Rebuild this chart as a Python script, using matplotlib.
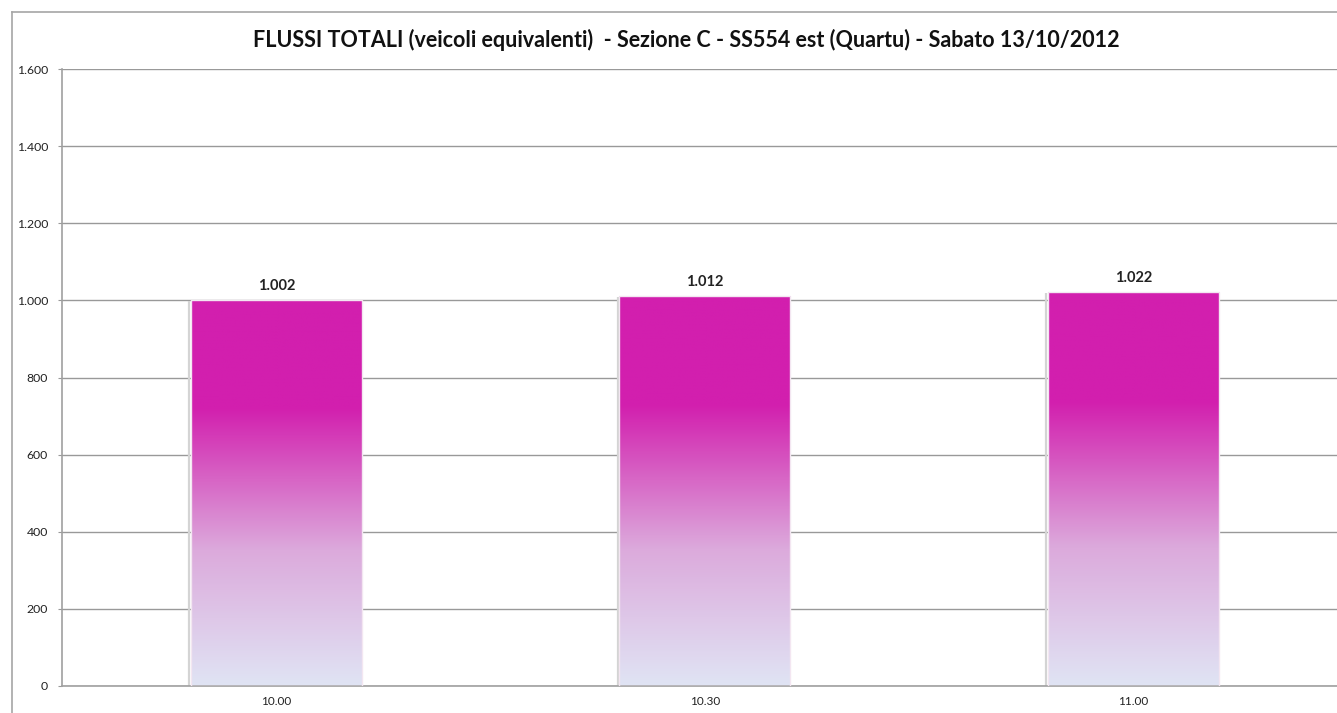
import numpy as np
import matplotlib
matplotlib.use("Agg")
import matplotlib.pyplot as plt
from matplotlib.colors import LinearSegmentedColormap
from matplotlib.lines import Line2D

# data
times = ["10.00", "10.30", "11.00"]
flows = [1002, 1012, 1022]
flow_labels = ["1.002", "1.012", "1.022"]
y_ticks = [0, 200, 400, 600, 800, 1000, 1200, 1400, 1600]
y_tick_labels = ["0", "200", "400", "600", "800", "1.000", "1.200", "1.400", "1.600"]

title = "FLUSSI TOTALI (veicoli equivalenti)  - Sezione C - SS554 est (Quartu) - Sabato 13/10/2012"

plt.rcParams["font.family"] = ["Lato", "DejaVu Sans"]

W, H = 1337, 713
fig = plt.figure(figsize=(W / 100, H / 100), dpi=100)

# plot area in pixels (right end goes past the image edge like the original)
left_px, right_px, top_px, zero_px = 62, 1347.5, 69, 686
ax = fig.add_axes([left_px / W, 1 - zero_px / H,
                   (right_px - left_px) / W, (zero_px - top_px) / H])

# outer chart frame (only left and top visible in the crop)
fig.add_artist(Line2D([12 / W, 12 / W], [0, 1 - 12 / H], color="#a6a6a6", lw=1.2))
fig.add_artist(Line2D([12 / W, 1], [1 - 12 / H, 1 - 12 / H], color="#a6a6a6", lw=1.2))

x = np.arange(len(times))
bars = ax.bar(x, flows, width=0.40, color="none", edgecolor="#f3e6f1", linewidth=1.0, zorder=3)

cmap = LinearSegmentedColormap.from_list(
    "flow", [(0.0, "#e0e4f4"), (0.35, "#dcaadc"), (0.72, "#d21fae"), (1.0, "#d21fae")])
grad = np.linspace(0, 1, 256).reshape(-1, 1)
for b in bars:
    x0, w, h = b.get_x(), b.get_width(), b.get_height()
    # faint shadow on the left edge of each bar
    ax.plot([x0 - 0.0025, x0 - 0.0025], [0, h - 4], color="#d4d4d4", lw=1.6,
            solid_capstyle="butt", zorder=2)
    im = ax.imshow(grad, cmap=cmap, aspect="auto", origin="lower",
                   extent=[x0, x0 + w, 0, h], zorder=2.5)
    im.set_clip_path(b)

for xi, v, lab in zip(x, flows, flow_labels):
    ax.text(xi, v + 18, lab, ha="center", va="bottom", fontsize=10.5,
            fontweight="bold", color="#222222")

ax.set_xlim(-0.5, len(times) - 0.5)
ax.set_ylim(0, 1600)
ax.set_xticks(x)
ax.set_xticklabels(times, fontsize=8.5, color="#222222")
ax.set_yticks(y_ticks)
ax.set_yticklabels(y_tick_labels, fontsize=8.8, color="#222222")
ax.tick_params(axis="x", length=0, pad=7)
ax.tick_params(axis="y", length=3, color="#999999", pad=7)

ax.grid(axis="y", color="#999999", linewidth=1.0, zorder=0)
ax.set_axisbelow(True)
for s in ["top", "right"]:
    ax.spines[s].set_visible(False)
for s in ["left", "bottom"]:
    ax.spines[s].set_color("#a0a0a0")
    ax.spines[s].set_linewidth(1.2)

fig.text(686 / W, 1 - 40 / H, title, ha="center", va="center",
         fontsize=15.5, fontweight="bold", color="#111111")

fig.savefig("out.png", dpi=100)
